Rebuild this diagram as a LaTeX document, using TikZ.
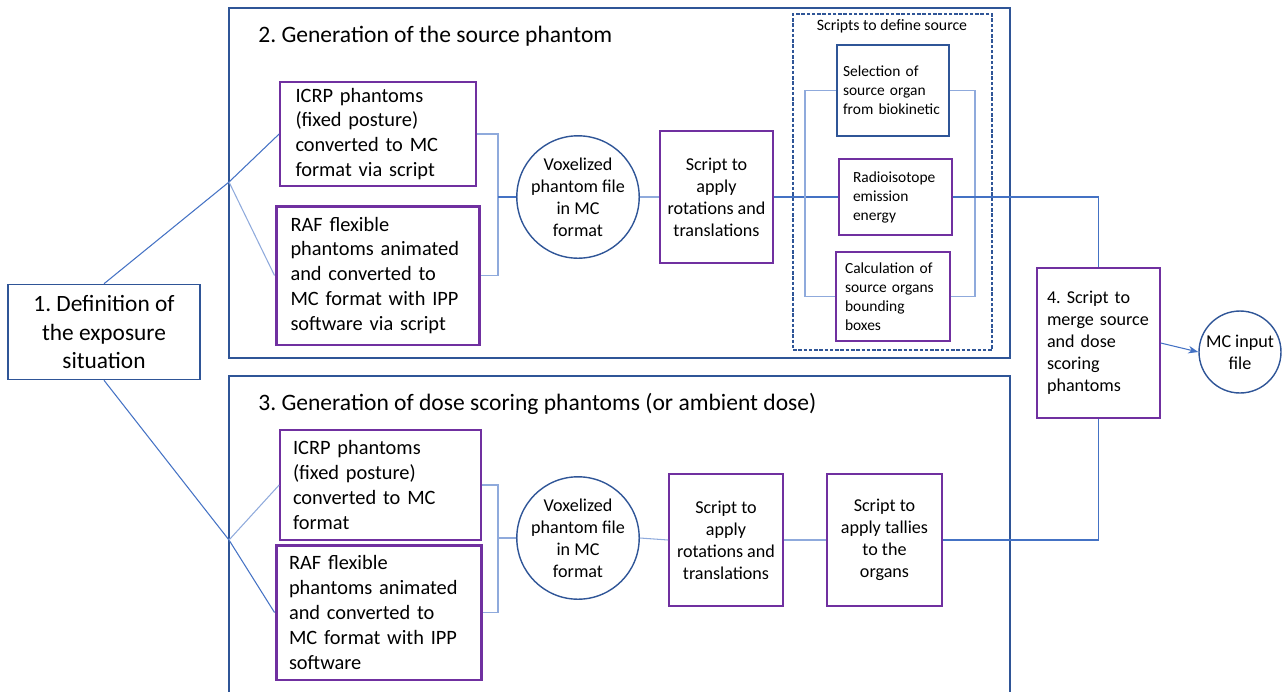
\documentclass[tikz,border=0pt]{standalone}
\usepackage{fontspec}
\setmainfont{Carlito}
\usetikzlibrary{arrows.meta,positioning}
\frenchspacing
\hyphenpenalty=10000
\exhyphenpenalty=10000

\definecolor{framecol}{RGB}{47,85,151}
\definecolor{purplecol}{RGB}{112,48,160}
\definecolor{linkcol}{RGB}{68,114,196}
\definecolor{lightcol}{RGB}{143,170,220}

\begin{document}
\begin{tikzpicture}[
    x=0.02cm, y=-0.02cm,
    >=Stealth,
    frame/.style={draw=framecol, line width=0.9pt, inner sep=0pt},
    titletext/.style={anchor=west, inner sep=0pt, font=\fontsize{13.4}{16}\selectfont},
    bigbox/.style={
        draw=purplecol,
        line width=1pt,
        align=left,
        inner xsep=0.26cm,
        font=\fontsize{11.6}{14.2}\selectfont
    },
    thickbox/.style={bigbox, line width=1.7pt},
    stepbox/.style={
        draw=purplecol,
        line width=1pt,
        align=center,
        font=\fontsize{10.3}{12.5}\selectfont
    },
    srcbox/.style={
        draw=purplecol,
        line width=1pt,
        align=left,
        inner xsep=0.18cm,
        font=\fontsize{8.8}{10.8}\selectfont
    },
    roundnode/.style={
        draw=framecol,
        line width=0.8pt,
        circle,
        inner sep=0pt,
        align=center,
        font=\fontsize{10.3}{12.5}\selectfont
    },
    line/.style={draw=linkcol, line width=0.6pt},
    light/.style={draw=lightcol, line width=0.6pt}
]
    \useasboundingbox (0,0) rectangle (1286,691);

    \node[frame, minimum width=15.62cm, minimum height=7cm] (srcframe) at (619.5,183) {};
    \node[frame, minimum width=15.62cm, minimum height=6.88cm] (doseframe) at (619.5,548) {};
    \node[titletext] (srctitle) at (258,36) {2. Generation of the source phantom};
    \node[titletext] (dosetitle) at (258,404) {3. Generation of dose scoring phantoms (or ambient dose)};

    \node[draw=framecol, line width=0.9pt, minimum width=3.84cm, minimum height=1.9cm, align=center,
          font=\fontsize{13.3}{16.2}\selectfont] (defsit) at (104,332) {1. Definition of\\the exposure\\situation};

    \node[bigbox, minimum width=3.92cm, minimum height=2.08cm, text width=3.3cm] (icrpA) at (378,134)
        {ICRP phantoms\\(fixed posture)\\converted to MC\\format via script};
    \node[thickbox, minimum width=4.08cm, minimum height=2.78cm, text width=3.5cm] (rafA) at (378,275.5)
        {RAF flexible\\phantoms animated\\and converted to\\MC format with IPP\\software via script};
    \node[roundnode, minimum size=2.36cm] (voxA) at (578,197) {Voxelized\\phantom file\\in MC\\format};
    \node[stepbox, minimum width=2.26cm, minimum height=2.64cm] (rotA) at (716.5,197)
        {Script to\\apply\\rotations and\\translations};

    \node[draw=framecol, dashed, dash pattern=on 2pt off 1pt, line width=0.7pt,
          minimum width=3.98cm, minimum height=6.72cm] (srcdef) at (892.5,182) {};
    \node[inner sep=0pt, font=\fontsize{9}{11}\selectfont] (srcdeftitle) at (892,26) {Scripts to define source};
    \node[srcbox, draw=framecol, minimum width=2.2cm, minimum height=1.82cm, text width=2cm, inner xsep=0.12cm] (selorg) at (893,90.5)
        {Selection of\\source organ\\from biokinetic};
    \node[srcbox, minimum width=2.26cm, minimum height=1.52cm, text width=1.7cm, inner xsep=0.28cm] (emis) at (895.5,197)
        {Radioisotope\\emission\\energy};
    \node[srcbox, minimum width=2.28cm, minimum height=1.78cm, text width=1.92cm] (bbox) at (893,296.5)
        {Calculation of\\source organs\\bounding\\boxes};

    \node[bigbox, line width=0.8pt, minimum width=2.46cm, minimum height=3cm, text width=2.06cm, inner xsep=0.2cm,
          font=\fontsize{10.3}{12.5}\selectfont] (merge) at (1098.5,343)
        {4. Script to\\merge source\\and dose\\scoring\\phantoms};
    \node[roundnode, minimum size=1.64cm] (mcin) at (1240,352) {MC input\\file};

    \node[bigbox, minimum width=4.02cm, minimum height=2.2cm, text width=3.5cm] (icrpB) at (380.5,485)
        {ICRP phantoms\\(fixed posture)\\converted to MC\\format};
    \node[thickbox, minimum width=4.12cm, minimum height=2.7cm, text width=3.6cm] (rafB) at (379,612.5)
        {RAF flexible\\phantoms animated\\and converted to\\MC format with IPP\\software};
    \node[roundnode, minimum size=2.36cm] (voxB) at (578,538) {Voxelized\\phantom file\\in MC\\format};
    \node[stepbox, minimum width=2.28cm, minimum height=2.64cm] (rotB) at (726,540)
        {Script to\\apply\\rotations and\\translations};
    \node[stepbox, minimum width=2.3cm, minimum height=2.64cm] (tally) at (884.5,540)
        {Script to\\apply tallies\\to the\\organs};

    \coordinate (splitA) at (229,182);
    \coordinate (splitB) at (229,540);
    \coordinate (joinA) at (498,197);
    \coordinate (joinB) at (498,538);
    \coordinate (leftbr) at (805,197);
    \coordinate (rightbr) at (975,197);

    \draw[line] (defsit.north) -- (splitA) -- (icrpA.west);
    \draw[light] (splitA) -- (rafA.west);
    \draw[line] (defsit.south) -- (splitB) -- (rafB.west);
    \draw[light] (splitB) -- (icrpB.west);

    \draw[light] (icrpA.east) -| (joinA) |- (rafA.east);
    \draw[line] (joinA) -- (voxA.west);
    \draw[light] (voxA.east) -- (rotA.west);
    \draw[line] (rotA.east) -- (emis.west);
    \draw[light] (selorg.west) -| (leftbr) |- (bbox.west);
    \draw[light] (selorg.east) -| (rightbr) |- (bbox.east);
    \draw[line] (emis.east) -| (merge.north);
    \draw[line, ->] (merge.east) -- (mcin.west);

    \draw[light] (icrpB.east) -| (joinB) |- (rafB.east);
    \draw[light] (joinB) -- (voxB.west);
    \draw[light] (voxB.east) -- (rotB.west);
    \draw[light] (rotB.east) -- (tally.west);
    \draw[line] (merge.south) |- (tally.east);
\end{tikzpicture}
\end{document}
